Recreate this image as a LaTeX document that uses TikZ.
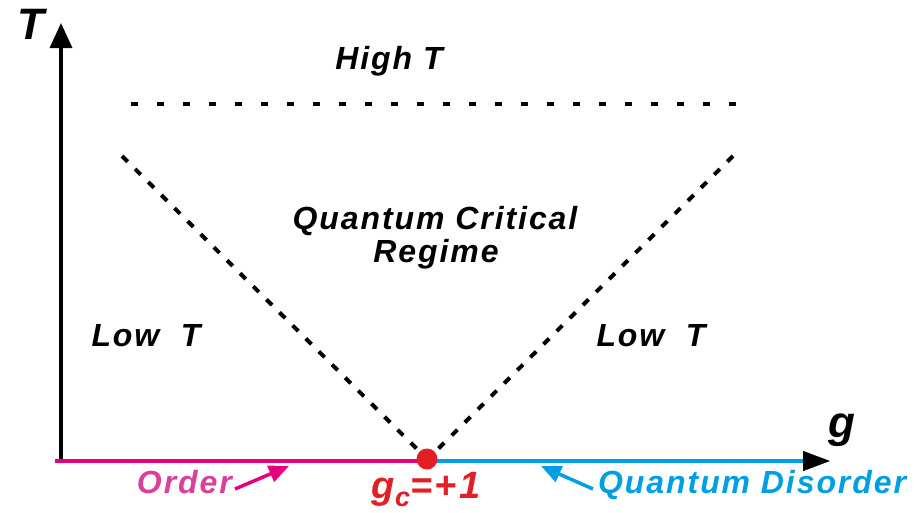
\documentclass[tikz,border=0pt]{standalone}
\usepackage{fontspec}
\setmainfont{Liberation Sans}
\newfontfamily\labfont[LetterSpace=6]{Liberation Sans}
\usetikzlibrary{arrows.meta}
\definecolor{ordmag}{HTML}{E6007E}
\definecolor{ordtxt}{HTML}{D8409A}
\definecolor{disblue}{HTML}{009FE3}
\definecolor{critred}{HTML}{E31E24}
\begin{document}
\begin{tikzpicture}[x=1pt,y=-1pt,
  lab/.style={inner sep=0pt,anchor=base,font=\labfont\fontsize{32}{36}\selectfont\bfseries\itshape},
  biglab/.style={inner sep=0pt,anchor=base,font=\labfont\fontsize{44}{48}\selectfont\bfseries\itshape},
  hdash/.style={line width=3.5pt,dash pattern=on 7pt off 19pt},
  ddash/.style={line width=4pt,dash pattern=on 8pt off 10.5pt},
  pointer/.style={line width=3.5pt,-{Triangle[length=20pt,width=17pt]}}]
\useasboundingbox (0,0) rectangle (919,512);
% coordinates
\coordinate (orig) at (61,461);
\coordinate (ytip) at (61,23);
\coordinate (xstart) at (55,461);
\coordinate (crit) at (427,459);
\coordinate (xbase) at (803,461);
\coordinate (xtip) at (830,461);
\coordinate (hl) at (131,104);
\coordinate (hr) at (738,104);
\coordinate (dl) at (122,156);
\coordinate (dlb) at (420,452);
\coordinate (dr) at (733,156);
\coordinate (drb) at (435,452);
% dashed lines
\draw[hdash] (hl) -- (hr);
\draw[ddash] (dl) -- (dlb);
\draw[ddash] (dr) -- (drb);
% axes
\draw[line width=3.5pt,-{Triangle[length=25pt,width=22pt]}] (orig) -- (ytip);
\draw[ordmag,line width=4.5pt] (xstart) -- (crit |- xstart);
\draw[disblue,line width=4.5pt] (crit |- xstart) -- (xbase);
\draw[line width=1pt,-{Triangle[length=27pt,width=20pt]}] (xbase) -- (xtip);
\fill[critred] (crit) circle (10.5);
% labels
\node[biglab] (Tlab) at (31,39) {T};
\node[biglab] (glab) at (842,437) {g};
\node[lab] (high) at (389,69) {High T};
\node[lab] (qc) at (435,229) {Quantum Critical};
\node[lab] (reg) at (436,262) {Regime};
\node[lab] (lowl) at (146,346) {Low\ \ T};
\node[lab] (lowr) at (651,346) {Low\ \ T};
\node[lab,critred,font=\labfont\fontsize{38}{40}\selectfont\bfseries\itshape] (gc) at (426,498) {g\raisebox{-0.22em}{\fontsize{27}{27}\selectfont c}=+1};
\node[lab,ordtxt,anchor=base east] (order) at (232,493) {Order};
\node[lab,disblue,anchor=base west] (dis) at (598,493) {Quantum Disorder};
% pointers
\coordinate (optail) at (235,489);
\coordinate (optip) at (289,466);
\coordinate (dptail) at (593,489);
\coordinate (dptip) at (541,466);
\draw[pointer,ordmag] (optail) -- (optip);
\draw[pointer,disblue] (dptail) -- (dptip);
\end{tikzpicture}
\end{document}
